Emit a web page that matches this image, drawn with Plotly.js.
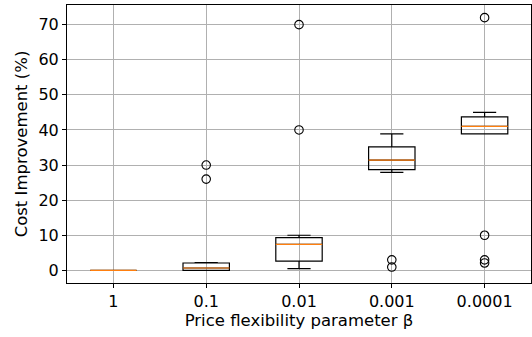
<!DOCTYPE html>
<html>
<head>
<meta charset="utf-8">
<script src="https://cdn.plot.ly/plotly-3.0.1.min.js"></script>
<style>html,body{margin:0;padding:0;background:#fff;}#chart{width:532px;height:337px;}</style>
</head>
<body>
<div id="chart"></div>
<script>
// Categories (price flexibility parameter beta)
var categories = ["1", "0.1", "0.01", "0.001", "0.0001"];
// Box statistics (Cost Improvement, %)
var q1Values     = [0.0, 0.0, 2.65, 28.7, 38.9];
var medianValues = [0.0, 0.67, 7.4, 31.4, 41.0];
var q3Values     = [0.0, 2.1, 9.3, 35.2, 43.7];
var lowerWhisker = [0.0, 0.0, 0.5, 27.9, 38.9];
var upperWhisker = [0.0, 2.2, 10.0, 38.9, 45.0];
// Outliers per category
var outliers = [
  [],
  [30.0, 26.0],
  [70.0, 40.0],
  [3.0, 0.95],
  [72.0, 10.0, 3.0, 2.1]
];

var positions = categories.map(function(_, i){ return i + 1; });
var boxHalf = 0.25;

var traces = [];
traces.push({
  type: 'box',
  x: positions,
  q1: q1Values,
  median: medianValues,
  q3: q3Values,
  lowerfence: lowerWhisker,
  upperfence: upperWhisker,
  width: 0.5,
  whiskerwidth: 0.5,
  boxpoints: false,
  fillcolor: 'rgba(0,0,0,0)',
  line: {color: '#000000', width: 1.2},
  hoverinfo: 'skip',
  showlegend: false
});

// Median lines in orange
var mx = [], my = [];
positions.forEach(function(p, i){
  mx.push(p - boxHalf, p + boxHalf, null);
  my.push(medianValues[i], medianValues[i], null);
});
traces.push({
  type: 'scatter', mode: 'lines', x: mx, y: my,
  line: {color: '#ff7f0e', width: 1.2},
  hoverinfo: 'skip', showlegend: false
});

// Outlier markers
var ox = [], oy = [];
outliers.forEach(function(arr, i){
  arr.forEach(function(v){ ox.push(positions[i]); oy.push(v); });
});
traces.push({
  type: 'scatter', mode: 'markers', x: ox, y: oy,
  marker: {symbol: 'circle-open', size: 8.5, color: '#000000', line: {width: 1.1, color: '#000000'}},
  hoverinfo: 'skip', showlegend: false
});

var font = {family: 'DejaVu Sans, sans-serif', size: 16, color: '#000000'};
var titleFont = {family: 'DejaVu Sans, sans-serif', size: 16.5, color: '#000000'};

var layout = {
  width: 532, height: 337,
  margin: {l: 67, r: 1, t: 5, b: 54},
  paper_bgcolor: '#ffffff', plot_bgcolor: '#ffffff',
  font: font,
  showlegend: false,
  xaxis: {
    range: [0.5, 5.5],
    tickmode: 'array', tickvals: positions, ticktext: categories,
    showgrid: true, gridcolor: '#b0b0b0', gridwidth: 1,
    zeroline: false,
    showline: true, mirror: true, linecolor: '#000000', linewidth: 1,
    ticks: 'outside', ticklen: 4, tickcolor: '#000000', tickwidth: 1,
    tickfont: font,
    title: {text: 'Price flexibility parameter β', font: titleFont, standoff: 3}
  },
  yaxis: {
    range: [-3.6, 75.6],
    tickmode: 'array', tickvals: [0,10,20,30,40,50,60,70],
    showgrid: true, gridcolor: '#b0b0b0', gridwidth: 1,
    zeroline: false,
    showline: true, mirror: true, linecolor: '#000000', linewidth: 1,
    ticks: 'outside', ticklen: 4, tickcolor: '#000000', tickwidth: 1,
    tickfont: font,
    title: {text: 'Cost Improvement (%)', font: titleFont, standoff: 6}
  }
};

Plotly.newPlot('chart', traces, layout, {displayModeBar: false, staticPlot: true});
</script>
</body>
</html>
